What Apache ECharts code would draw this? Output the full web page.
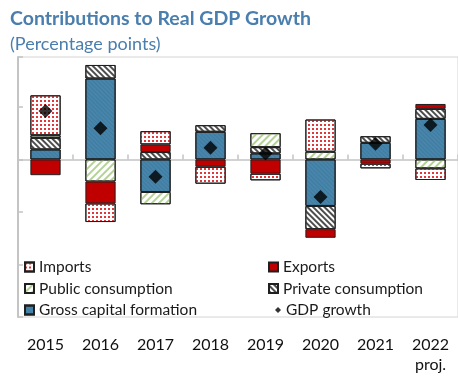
<!DOCTYPE html>
<html>
<head>
<meta charset="utf-8">
<script src="https://cdn.jsdelivr.net/npm/echarts@6/dist/echarts.min.js"></script>
<style>
  html, body { margin: 0; padding: 0; background: #fff; }
  #chart { width: 458px; height: 379px; }
</style>
</head>
<body>
<div id="chart"></div>
<script>
// Contributions to real GDP growth, percentage points
const years = ['2015', '2016', '2017', '2018', '2019', '2020', '2021', '2022\nproj.'];
const grossCapitalFormation = [0.95, 7.7, -3.1, 2.63, 0.57, -4.43, 1.58, 3.86];
const privateConsumption   = [1.1, 1.29, 0.7, 0.63, 0.6, -2.21, 0.63, 0.95];
const publicConsumption    = [0.25, -2.1, -1.17, null, 1.33, 0.73, null, -0.85];
const exportsContribution  = [-1.5, -2.09, 0.73, -0.7, -1.36, -0.82, -0.41, 0.47];
const importsContribution  = [3.8, -1.77, 1.26, -1.61, -0.63, 3.07, -0.44, -1.11];
const gdpGrowth            = [4.6, 2.96, -1.65, 1.11, 0.57, -3.58, 1.49, 3.27];

const FONT = 'Lato';
const BLUE_TEXT = '#4a7eae';
const edge = { borderColor: '#1f1f1f', borderWidth: 1 };

function barSeries(name, data, style) {
  return {
    name: name,
    type: 'bar',
    stack: 'contrib',
    barWidth: '55%',
    xAxisIndex: 0,
    data: data,
    itemStyle: Object.assign({}, edge, style),
    emphasis: { disabled: true }
  };
}

const chart = echarts.init(document.getElementById('chart'), null, { renderer: 'canvas' });

chart.setOption({
  animation: false,
  title: {
    text: 'Contributions to Real GDP Growth',
    subtext: '(Percentage points)',
    left: 10,
    top: 8,
    padding: 0,
    itemGap: 5,
    textStyle: { fontFamily: FONT, fontSize: 19.5, fontWeight: 'bold', color: BLUE_TEXT, lineHeight: 21 },
    subtextStyle: { fontFamily: FONT, fontSize: 18, color: BLUE_TEXT, lineHeight: 20 }
  },
  grid: {
    left: 18,
    right: -8,
    top: 57,
    bottom: 62,
    show: true,
    borderColor: '#d4d4d4',
    borderWidth: 1,
    backgroundColor: 'transparent'
  },
  legend: [
    {
      data: ['Imports', 'Public consumption', 'Gross capital formation'],
      orient: 'vertical',
      left: 19, top: 253,
      itemWidth: 9, itemHeight: 9, itemGap: 3.5,
      icon: 'rect',
      textStyle: { fontFamily: FONT, fontSize: 15.5, color: '#1a1a1a', lineHeight: 18 }
    },
    {
      data: ['Exports', 'Private consumption'],
      orient: 'vertical',
      left: 263, top: 253,
      itemWidth: 9, itemHeight: 9, itemGap: 3.5,
      icon: 'rect',
      textStyle: { fontFamily: FONT, fontSize: 15.5, color: '#1a1a1a', lineHeight: 18 }
    },
    {
      data: ['GDP growth'],
      orient: 'vertical',
      left: 270, top: 296,
      itemWidth: 6, itemHeight: 6,
      textStyle: { fontFamily: FONT, fontSize: 15.5, color: '#1a1a1a', lineHeight: 18 }
    }
  ],
  xAxis: [
    {
      // year labels along the bottom of the frame
      type: 'category',
      data: years,
      position: 'bottom',
      axisLine: { show: false, onZero: false },
      axisTick: { show: false },
      axisLabel: {
        fontFamily: FONT, fontSize: 16, color: '#111', margin: 18, lineHeight: 20
      }
    },
    {
      // zero line with category boundary ticks
      type: 'category',
      data: years,
      position: 'bottom',
      axisLine: { show: true, onZero: true, lineStyle: { color: '#c4c4c4', width: 1.5 } },
      axisTick: { show: true, inside: true, length: 5, lineStyle: { color: '#c4c4c4', width: 1.5 } },
      axisLabel: { show: false }
    }
  ],
  yAxis: {
    type: 'value',
    min: -15,
    max: 9.75,
    interval: 5,
    axisLine: { show: true, lineStyle: { color: '#c4c4c4', width: 2 } },
    axisTick: { show: true, inside: true, length: 5, lineStyle: { color: '#c4c4c4', width: 1.5 } },
    axisLabel: { show: false },
    splitLine: { show: false }
  },
  series: [
    barSeries('Gross capital formation', grossCapitalFormation, {
      color: '#4785ab',
      decal: {
        symbol: 'rect', symbolSize: 1, color: 'rgba(20,50,80,0.12)',
        dashArrayX: [1, 0], dashArrayY: [1, 2], rotation: Math.PI / 4
      }
    }),
    barSeries('Private consumption', privateConsumption, {
      color: '#ffffff',
      decal: {
        symbol: 'rect', symbolSize: 1, color: '#4d4d4d',
        dashArrayX: [1, 0], dashArrayY: [2, 2], rotation: Math.PI / 4
      }
    }),
    barSeries('Public consumption', publicConsumption, {
      color: '#ffffff',
      decal: {
        symbol: 'rect', symbolSize: 1, color: '#b5d296',
        dashArrayX: [1, 0], dashArrayY: [1.5, 3], rotation: -Math.PI / 4
      }
    }),
    barSeries('Exports', exportsContribution, { color: '#c00000' }),
    barSeries('Imports', importsContribution, {
      color: '#ffffff',
      decal: {
        symbol: 'rect', symbolSize: 1, color: '#e2373a',
        dashArrayX: [1.5, 1.8], dashArrayY: [1.5, 1.8], rotation: 0
      }
    }),
    {
      name: 'GDP growth',
      type: 'scatter',
      xAxisIndex: 0,
      data: gdpGrowth,
      symbol: 'diamond',
      symbolSize: 14,
      itemStyle: { color: '#000000' },
      z: 5,
      emphasis: { disabled: true }
    }
  ]
});
</script>
</body>
</html>
